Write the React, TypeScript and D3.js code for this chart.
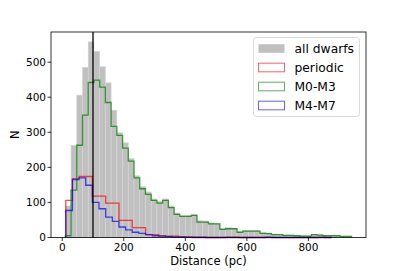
import React from "react";
import * as d3 from "d3";

// Grey / green histograms share these bins
const binStartA = 10;
const binWidthA = 18.6;
const allDwarfs = [90, 263, 406, 485, 558, 531, 487, 441, 363, 299, 270, 225, 176, 145, 130, 110, 103, 110, 90, 70, 63, 63, 66, 48, 47, 42, 41, 26, 28, 27, 17, 20, 20, 20, 14, 13, 10, 9, 7, 7, 6, 5, 5, 9, 8, 6, 6, 5, 4, 4];
const m0m3 = [5, 135, 263, 349, 442, 449, 429, 385, 317, 291, 255, 218, 170, 139, 123, 106, 98, 106, 85, 66, 60, 60, 63, 44, 44, 39, 39, 23, 25, 25, 15, 18, 18, 18, 12, 11, 8, 8, 6, 6, 5, 4, 4, 8, 7, 5, 5, 5, 3, 3];
// Red / blue histograms share these bins
const binStartB = 11.5;
const binWidthB = 21.6;
const periodic = [106, 168, 174, 174, 118, 118, 98, 98, 49, 49, 28, 28, 8, 8, 5, 3, 4, 2, 2, 0, 0, 0, 0, 0, 1, 1, 0, 0, 0, 0, 0, 0, 0, 0, 0, 0, 0, 0, 1, 0];
const m4m7 = [77, 165, 170, 149, 100, 82, 58, 46, 30, 22, 15, 12, 8, 5, 4, 3, 2, 2, 1, 1, 1, 0, 0, 0, 0, 0, 0, 0, 0, 0, 1, 0, 0, 0, 0, 0, 0, 0, 0, 0];

const xTicks = [0, 200, 400, 600, 800];
const yTicks = [0, 100, 200, 300, 400, 500];
const legendLabels = ["all dwarfs", "periodic", "M0-M3", "M4-M7"];
const vLine = 100;

export default function App() {
  const W = 407, H = 271;
  const left = 51, right = 366, top = 32, bottom = 237.5;
  const x = d3.scaleLinear().domain([-36.5, 987]).range([left, right]);
  const y = d3.scaleLinear().domain([0, 586]).range([bottom, top]);
  const font = "DejaVu Sans, sans-serif";

  const stepPath = (vals: number[], start: number, w: number) => {
    const pts: [number, number][] = [[start, 0]];
    vals.forEach((v, i) => {
      pts.push([start + i * w, v]);
      pts.push([start + (i + 1) * w, v]);
    });
    pts.push([start + vals.length * w, 0]);
    return d3.line<[number, number]>().x((d) => x(d[0])).y((d) => y(d[1]))(pts) || "";
  };

  const legendColors = [
    { fill: "#c0c0c0", stroke: "none" },
    { fill: "white", stroke: "#ff6060" },
    { fill: "white", stroke: "#60b060" },
    { fill: "white", stroke: "#6060ff" },
  ];

  return (
    <svg width={W} height={H} style={{ position: "absolute", left: 0, top: 0 }} fontFamily={font}>
      <rect x={0} y={0} width={W} height={H} fill="white" />
      <g>
        {allDwarfs.map((v, i) => {
          const x0 = x(binStartA + i * binWidthA);
          const x1 = x(binStartA + (i + 1) * binWidthA);
          return (
            <rect key={i} x={x0} y={y(v)} width={x1 - x0} height={y(0) - y(v)} fill="#c0c0c0" stroke="#d6d6d6" strokeWidth={0.6} />
          );
        })}
      </g>
      <path d={stepPath(periodic, binStartB, binWidthB)} fill="none" stroke="#ff0000" strokeOpacity={0.7} strokeWidth={1.3} />
      <path d={stepPath(m0m3, binStartA, binWidthA)} fill="none" stroke="#008000" strokeOpacity={0.75} strokeWidth={1.3} />
      <path d={stepPath(m4m7, binStartB, binWidthB)} fill="none" stroke="#0000ff" strokeOpacity={0.7} strokeWidth={1.3} />
      <line x1={x(vLine)} x2={x(vLine)} y1={top} y2={bottom} stroke="black" strokeWidth={1.3} />
      <rect x={left} y={top} width={right - left} height={bottom - top} fill="none" stroke="black" strokeWidth={0.8} />
      {xTicks.map((t) => (
        <g key={t}>
          <line x1={x(t)} x2={x(t)} y1={bottom} y2={bottom + 3.5} stroke="black" strokeWidth={0.8} />
          <text x={x(t)} y={bottom + 13} fontSize={10.5} textAnchor="middle">{t}</text>
        </g>
      ))}
      {yTicks.map((t) => (
        <g key={t}>
          <line x1={left - 3.5} x2={left} y1={y(t)} y2={y(t)} stroke="black" strokeWidth={0.8} />
          <text x={left - 5} y={y(t) + 3.8} fontSize={10.5} textAnchor="end">{t}</text>
        </g>
      ))}
      <text x={(left + right) / 2} y={265} fontSize={11.5} textAnchor="middle">Distance (pc)</text>
      <text transform={`translate(19, ${(top + bottom) / 2}) rotate(-90)`} fontSize={11.5} textAnchor="middle">N</text>
      <g>
        <rect x={253.5} y={37.5} width={106} height={79} rx={3} fill="white" fillOpacity={0.8} stroke="#d0d0d0" strokeWidth={0.8} />
        {legendLabels.map((l, i) => {
          const cy = 48.5 + i * 19;
          return (
            <g key={l}>
              <rect x={258.5} y={cy - 4.3} width={26} height={8.6} fill={legendColors[i].fill} stroke={legendColors[i].stroke} strokeWidth={1} />
              <text x={294.5} y={cy + 4.3} fontSize={12.3}>{l}</text>
            </g>
          );
        })}
      </g>
    </svg>
  );
}
